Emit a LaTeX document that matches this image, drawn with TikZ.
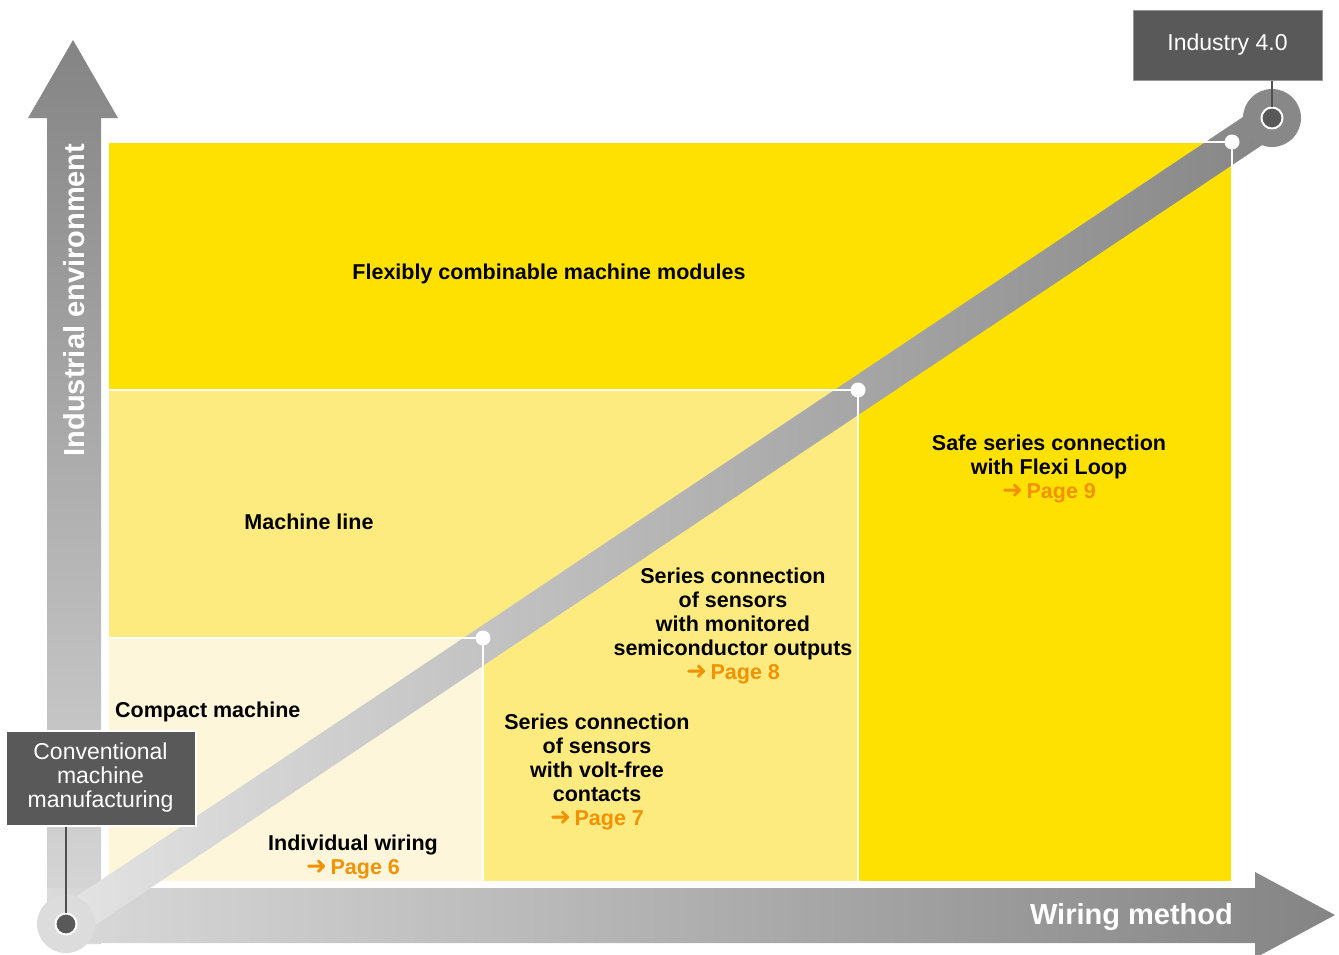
\documentclass[tikz,border=0pt]{standalone}
\usepackage{fontspec}
\setmainfont{Liberation Sans}
\newfontfamily\arrowfont{DejaVu Sans}
\usepackage{xcolor}
\usetikzlibrary{shapes, positioning}

\definecolor{brightyellow}{RGB}{255,225,0}
\definecolor{midyellow}{RGB}{254,235,128}
\definecolor{paleyellow}{RGB}{253,246,218}
\definecolor{pageorange}{RGB}{242,146,0}
\definecolor{boxgray}{RGB}{89,89,89}
\definecolor{pingray}{RGB}{80,80,80}
\definecolor{framegray}{RGB}{150,150,150}
\definecolor{axisdark}{RGB}{132,132,132}
\definecolor{axislight}{RGB}{218,218,218}
\definecolor{banddark}{RGB}{133,133,133}
\definecolor{bandlight}{RGB}{228,228,228}
\definecolor{startdisk}{RGB}{220,220,220}
\definecolor{goaldisk}{RGB}{136,136,136}

\newcommand{\seepage}[1]{\textcolor{pageorange}{{\arrowfont\fontsize{25}{24}\selectfont ➜}\,Page #1}}

\begin{document}
\begin{tikzpicture}[x=1pt, y=-1pt,
	lbl/.style={inner sep=0pt, align=center, font=\fontsize{21.5}{24}\selectfont\bfseries},
	axislbl/.style={inner sep=0pt, text=white, font=\fontsize{29}{32}\selectfont\bfseries},
	infobox/.style={fill=boxgray, text=white, inner sep=0pt, align=center, font=\fontsize{23}{24}\selectfont},
	sepline/.style={white, line width=2pt},
	waydot/.style={circle, fill=white, minimum size=15pt, inner sep=0pt},
	enddot/.style={circle, fill=boxgray, draw=white, line width=2pt, minimum size=21pt, inner sep=0pt},
	pinline/.style={pingray, line width=2.5pt}]
			\useasboundingbox (0,0) rectangle (1339,954);
			
			% fields
			\fill[brightyellow] (109,143) rectangle (1232,881);
			\fill[midyellow] (109,390) rectangle (858,881);
			\fill[paleyellow] (109,638) rectangle (483,881);
			
			% axes
			\shade[top color=axisdark, bottom color=axislight]
			(47,118) -- (28,118) -- (73,40) -- (118,118) -- (101,118) -- (101,944) -- (47,944) -- cycle;
			\shade[left color=axislight, right color=axisdark]
			(47,888) -- (1255,888) -- (1255,872) -- (1335,915) -- (1255,958) -- (1255,943) -- (47,943) -- cycle;
			
			% path of development
			\shade[left color=bandlight, right color=banddark]
			(56.5,909.9) -- (1262.5,103.9) -- (1281.5,132.1) -- (75.5,938.1) -- cycle;
			
			\fill[startdisk] (66,924) circle (29);
			\fill[goaldisk] (1272,118) circle (29);
			
			\node[enddot] (start) at (66,924) {};
			\node[enddot] (goal) at (1272,118) {};
			
			\node[waydot] (step1) at (483,638) {};
			\node[waydot] (step2) at (858,390) {};
			\node[waydot] (step3) at (1232,142) {};
			
			\draw[sepline] (109,638) -- (step1.center) -- (483,881);
			\draw[sepline] (109,390) -- (step2.center) -- (858,881);
			\draw[sepline] (1190,142) -- (step3.center) -- (1232,881);
			
			% boxes
			\node[infobox, minimum width=189pt, minimum height=70pt, draw=framegray, line width=1pt] (ind) at (1227.5,45) {Industry 4.0};
			\node[infobox, minimum width=190pt, minimum height=95pt, draw=white, line width=2pt] (conv) at (100.5,778) {Conventional\\machine\\manufacturing};
			
			\draw[pinline] (ind.south -| goal) -- (goal.north);
			\draw[pinline] (conv.south -| start) -- (start.north);
			
			% labels
			\node[axislbl, rotate=90] (yaxis) at (74,300) {Industrial environment};
			\node[axislbl, anchor=east] (xaxis) at (1233,917) {Wiring method};
			
			\node[lbl] (modules) at (549,274) {Flexibly combinable machine modules};
			\node[lbl] (line) at (309,522) {Machine line};
			\node[lbl, anchor=west] (compact) at (115,712) {Compact machine};
			\node[lbl] (single) at (353,857) {Individual wiring\\\seepage{6}};
			\node[lbl] (voltfree) at (597,772) {Series connection\\of sensors\\with volt-free\\contacts\\\seepage{7}};
			\node[lbl] (semicond) at (733,626) {Series connection\\of sensors\\with monitored\\semiconductor outputs\\\seepage{8}};
			\node[lbl] (flexiloop) at (1049,469) {Safe series connection\\with Flexi Loop\\\seepage{9}};
		\end{tikzpicture}
\end{document}
